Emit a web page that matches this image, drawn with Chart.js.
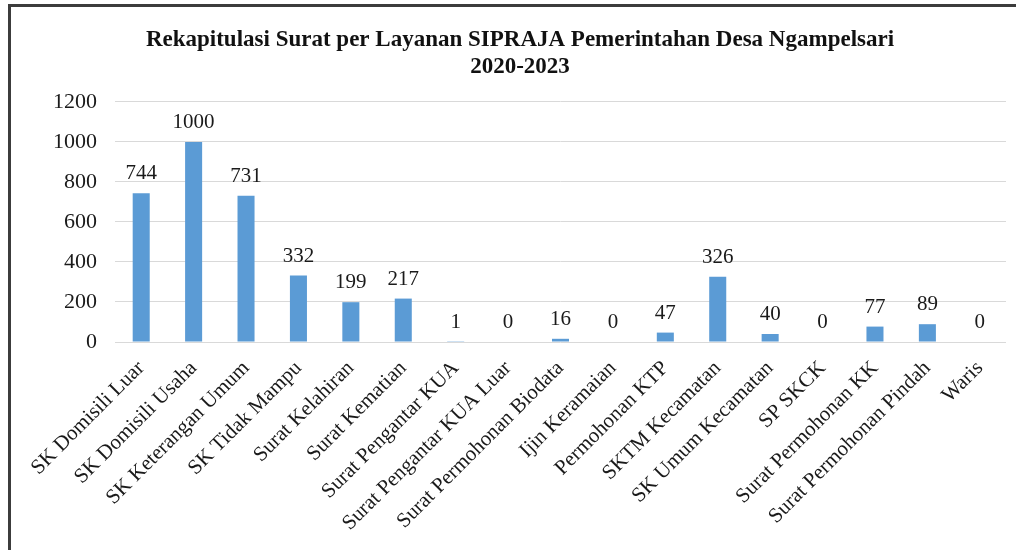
<!DOCTYPE html>
<html><head><meta charset="utf-8">
<script src="https://cdn.jsdelivr.net/npm/chart.js@4/dist/chart.umd.min.js"></script>
<style>
html,body{margin:0;padding:0;background:#fff;overflow:hidden;}
#wrap{position:absolute;left:0;top:0;width:1016px;height:550px;}
#frame{position:absolute;left:8px;top:4px;width:1100px;height:600px;border-left:3px solid #3c3c3c;border-top:3px solid #3c3c3c;pointer-events:none;}
canvas{position:absolute;left:0;top:0;}
</style></head>
<body>
<div id="wrap"><canvas id="c" width="1016" height="550"></canvas><div id="frame"></div></div>
<script>
const categories = ['SK Domisili Luar','SK Domisili Usaha','SK Keterangan Umum','SK Tidak Mampu','Surat Kelahiran','Surat Kematian','Surat Pengantar KUA','Surat Pengantar KUA Luar','Surat Permohonan Biodata','Ijin Keramaian','Permohonan KTP','SKTM Kecamatan','SK Umum Kecamatan','SP SKCK','Surat Permohonan KK','Surat Permohonan Pindah','Waris'];
const values = [744,1000,731,332,199,217,1,0,16,0,47,326,40,0,77,89,0];
const yMin = 0, yMax = 1200, yStep = 200;
const titleLines = ['Rekapitulasi Surat per Layanan SIPRAJA Pemerintahan Desa Ngampelsari','2020-2023'];

const SERIF = '"Liberation Serif","Times New Roman",serif';

const valueLabels = {
  id:'valueLabels',
  afterDatasetsDraw(chart){
    const ctx = chart.ctx, meta = chart.getDatasetMeta(0);
    ctx.save();
    ctx.font = '21px ' + SERIF;
    ctx.fillStyle = '#1a1a1a';
    ctx.textAlign = 'center';
    ctx.textBaseline = 'alphabetic';
    meta.data.forEach((bar,i)=>{ ctx.fillText(String(values[i]), bar.x, bar.y - 14); });
    ctx.restore();
  }
};

new Chart(document.getElementById('c'), {
  type:'bar',
  data:{ labels:categories, datasets:[{ data:values, backgroundColor:'#5B9BD5', borderWidth:0, barPercentage:0.65, categoryPercentage:0.5 }]},
  options:{
    responsive:false, animation:false,
    layout:{ padding:{ left:34, right:10, top:0, bottom:0 } },
    plugins:{
      legend:{display:false}, tooltip:{enabled:false},
      title:{ display:true, text:titleLines, color:'#111',
        font:{ family:SERIF, size:23, weight:'bold', lineHeight:1.15 },
        padding:{ top:27, bottom:22 } }
    },
    scales:{
      x:{
        grid:{display:false}, border:{display:false},
        ticks:{ font:{family:SERIF, size:21}, color:'#1a1a1a', maxRotation:45, minRotation:45, autoSkip:false, padding:6 },
        afterFit(s){ s.height = 208; }
      },
      y:{
        min:yMin, max:yMax,
        grid:{ color:'#d9d9d9', lineWidth:1, drawTicks:false }, border:{display:false},
        ticks:{ stepSize:yStep, font:{family:SERIF, size:22}, color:'#1a1a1a', padding:18, callback:(v)=>String(v) },
        afterFit(s){ s.width = 81; }
      }
    }
  },
  plugins:[valueLabels]
});
</script>
</body></html>
